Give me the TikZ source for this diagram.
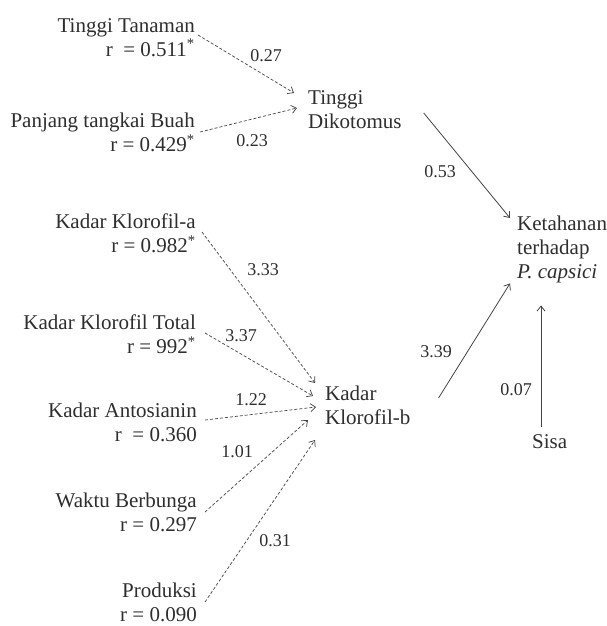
\documentclass[tikz,border=0pt]{standalone}
\usepackage{fontspec}
\setmainfont{Liberation Serif}
\usepackage{xcolor}
\usetikzlibrary{arrows.meta}
\definecolor{txtc}{HTML}{2E2E2E}
\definecolor{linec}{HTML}{444444}
\tikzset{
  var/.style={font=\fontsize{21}{24}\selectfont,text=txtc,inner sep=0pt},
  lvar/.style={var,align=right,anchor=north east},
  rvar/.style={var,align=left,anchor=north west},
  coef/.style={font=\fontsize{18}{20}\selectfont,text=txtc,inner sep=0pt},
  darr/.style={-{Straight Barb[length=5pt,width=8pt]},linec,dash pattern=on 3pt off 2pt,line width=0.7pt},
  sarr/.style={-{Straight Barb[length=5pt,width=8pt]},linec,line width=0.8pt}
}
\begin{document}
\begin{tikzpicture}[x=1pt,y=-1pt]
\useasboundingbox[fill=white] (0,0) rectangle (606,626);
% causes
\node[lvar] (tt) at (195,18) {Tinggi Tanaman\\r\ \ = 0.511\textsuperscript{*}};
\node[lvar] (pt) at (195,113) {Panjang tangkai Buah\\r = 0.429\textsuperscript{*}};
\node[lvar] (ka) at (196,214) {Kadar Klorofil-a\\r = 0.982\textsuperscript{*}};
\node[lvar] (kt) at (196,315) {Kadar Klorofil Total\\r = 992\textsuperscript{*}};
\node[lvar] (an) at (197,403) {Kadar Antosianin\\r\ \ = 0.360};
\node[lvar] (wb) at (197,493) {Waktu Berbunga\\r = 0.297};
\node[lvar] (pr) at (197,583) {Produksi\\r = 0.090};
% intermediate and effect
\node[rvar] (td) at (308,90) {Tinggi\\Dikotomus};
\node[rvar] (kb) at (325,386) {Kadar\\Klorofil-b};
\node[rvar] (kp) at (517,216) {Ketahanan\\terhadap\\\textit{P. capsici}};
\node[rvar] (ss) at (532,434) {Sisa};
% dashed paths
\draw[darr] ([shift={(3,17)}]tt.north east) -- ([shift={(-14,3)}]td.north west);
\draw[darr] ([shift={(5,19)}]pt.north east) -- ([shift={(-11,18)}]td.north west);
\draw[darr] ([shift={(6,18)}]ka.north east) -- ([shift={(-10,-3)}]kb.north west);
\draw[darr] ([shift={(9,18)}]kt.north east) -- ([shift={(-12,10)}]kb.north west);
\draw[darr] ([shift={(8,17)}]an.north east) -- ([shift={(-9,21)}]kb.north west);
\draw[darr] ([shift={(8,19)}]wb.north east) -- ([shift={(-17,34)}]kb.north west);
\draw[darr] ([shift={(8,19)}]pr.north east) -- ([shift={(-10,54)}]kb.north west);
% solid paths
\draw[sarr] ([shift={(22,23)}]td.north east) -- ([shift={(-7,2)}]kp.north west);
\draw[sarr] ([shift={(28,12)}]kb.north east) -- ([shift={(-7,0)}]kp.south west);
\draw[sarr] ([shift={(9,-7)}]ss.north west) -- ([shift={(24,22)}]kp.south west);
% coefficients
\node[coef] (c1) at (266,56) {0.27};
\node[coef] (c2) at (252,141) {0.23};
\node[coef] (c3) at (263,270) {3.33};
\node[coef] (c4) at (241,336) {3.37};
\node[coef] (c5) at (251,400) {1.22};
\node[coef] (c6) at (237,452) {1.01};
\node[coef] (c7) at (275,541) {0.31};
\node[coef] (c8) at (440,172) {0.53};
\node[coef] (c9) at (436,352) {3.39};
\node[coef] (c10) at (516,390) {0.07};
\end{tikzpicture}
\end{document}
